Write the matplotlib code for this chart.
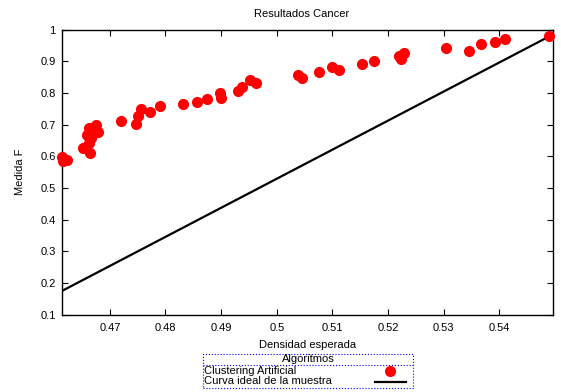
import matplotlib
matplotlib.use("Agg")
import matplotlib.pyplot as plt
from matplotlib.lines import Line2D
from matplotlib.patches import Rectangle

plt.rcParams['font.family'] = ['Liberation Sans', 'DejaVu Sans']

# Densidad esperada vs medida F por cada ejecucion
densidad = [0.4614, 0.4623, 0.4616, 0.4651, 0.4664, 0.4662, 0.4659, 0.4662,
            0.4675, 0.4678, 0.4666, 0.4720, 0.4747, 0.4750, 0.4756, 0.4772,
            0.4790, 0.4831, 0.4857, 0.4874, 0.4898, 0.4900, 0.4930, 0.4937,
            0.4951, 0.4962, 0.5038, 0.5046, 0.5075, 0.5100, 0.5112, 0.5153,
            0.5175, 0.5219, 0.5223, 0.5229, 0.5304, 0.5345, 0.5367, 0.5392,
            0.5410, 0.5489]
medida_f = [0.598, 0.588, 0.585, 0.625, 0.611, 0.641, 0.667, 0.688,
            0.699, 0.677, 0.657, 0.712, 0.701, 0.728, 0.748, 0.740,
            0.758, 0.765, 0.771, 0.780, 0.799, 0.785, 0.807, 0.819,
            0.841, 0.830, 0.856, 0.846, 0.865, 0.883, 0.872, 0.891,
            0.901, 0.916, 0.906, 0.925, 0.941, 0.933, 0.954, 0.960,
            0.971, 0.980]

# Curva ideal (recta entre los extremos)
ideal_x = [0.4614, 0.5497]
ideal_y = [0.175, 0.985]

xticks = [0.47, 0.48, 0.49, 0.50, 0.51, 0.52, 0.53, 0.54]
xtick_labels = ["0.47", "0.48", "0.49", "0.5", "0.51", "0.52", "0.53", "0.54"]
yticks = [0.1, 0.2, 0.3, 0.4, 0.5, 0.6, 0.7, 0.8, 0.9, 1.0]
ytick_labels = ["0.1", "0.2", "0.3", "0.4", "0.5", "0.6", "0.7", "0.8", "0.9", "1"]

series_names = ["Clustering Artificial", "Curva ideal de la muestra"]

W, H = 561, 392
fs = 8

fig = plt.figure(figsize=(W / 100, H / 100), dpi=100)
ax = fig.add_axes([0.1105, 0.1972, 0.8758, 0.7275])

ax.plot(ideal_x, ideal_y, color="black", lw=1.6, zorder=2)
ax.plot(densidad, medida_f, "o", color="red", ms=7, mec="red",
        clip_on=False, zorder=3)

ax.set_xlim(0.4614, 0.5497)
ax.set_ylim(0.1, 1.0)
ax.set_xticks(xticks)
ax.set_xticklabels(xtick_labels)
ax.set_yticks(yticks)
ax.set_yticklabels(ytick_labels)
ax.tick_params(direction="in", length=4, width=0.8, top=True, right=True,
               labelsize=fs, colors="black")
ax.tick_params(axis="x", pad=6)
ax.tick_params(axis="y", pad=4.5)
for s in ax.spines.values():
    s.set_linewidth(1.0)

ax.set_xlabel("Densidad esperada", fontsize=fs, labelpad=5)
ax.set_ylabel("Medida F", fontsize=fs, labelpad=11)
fig.text(301.7 / W, 1 - 14 / H, "Resultados Cancer", fontsize=fs,
         ha="center", va="center")

# leyenda dibujada a mano (estilo gnuplot)
def px(x, y):
    return x / W, 1 - y / H

lx0, lx1, ly0, ly1 = 203, 413, 354, 388
fig.patches.append(Rectangle(px(lx0, ly1), (lx1 - lx0) / W, (ly1 - ly0) / H,
                             transform=fig.transFigure, fill=False,
                             edgecolor="blue", ls=":", lw=0.8))
fig.lines.append(Line2D([lx0 / W, lx1 / W], [1 - 365 / H, 1 - 365 / H],
                        transform=fig.transFigure, color="blue", ls=":", lw=0.8))
fig.text(*px(308, 359.5), "Algoritmos", fontsize=fs, ha="center", va="center")
fig.text(*px(204, 371), series_names[0], fontsize=fs, ha="left", va="center")
fig.text(*px(204, 381), series_names[1], fontsize=fs, ha="left", va="center")
fig.lines.append(Line2D([390 / W], [1 - 371 / H], transform=fig.transFigure,
                        ls="none", marker="o", color="red", ms=7))
fig.lines.append(Line2D([375 / W, 406 / W], [1 - 381.5 / H, 1 - 381.5 / H],
                        transform=fig.transFigure, color="black", lw=1.6))

fig.savefig("out.png", dpi=100)
